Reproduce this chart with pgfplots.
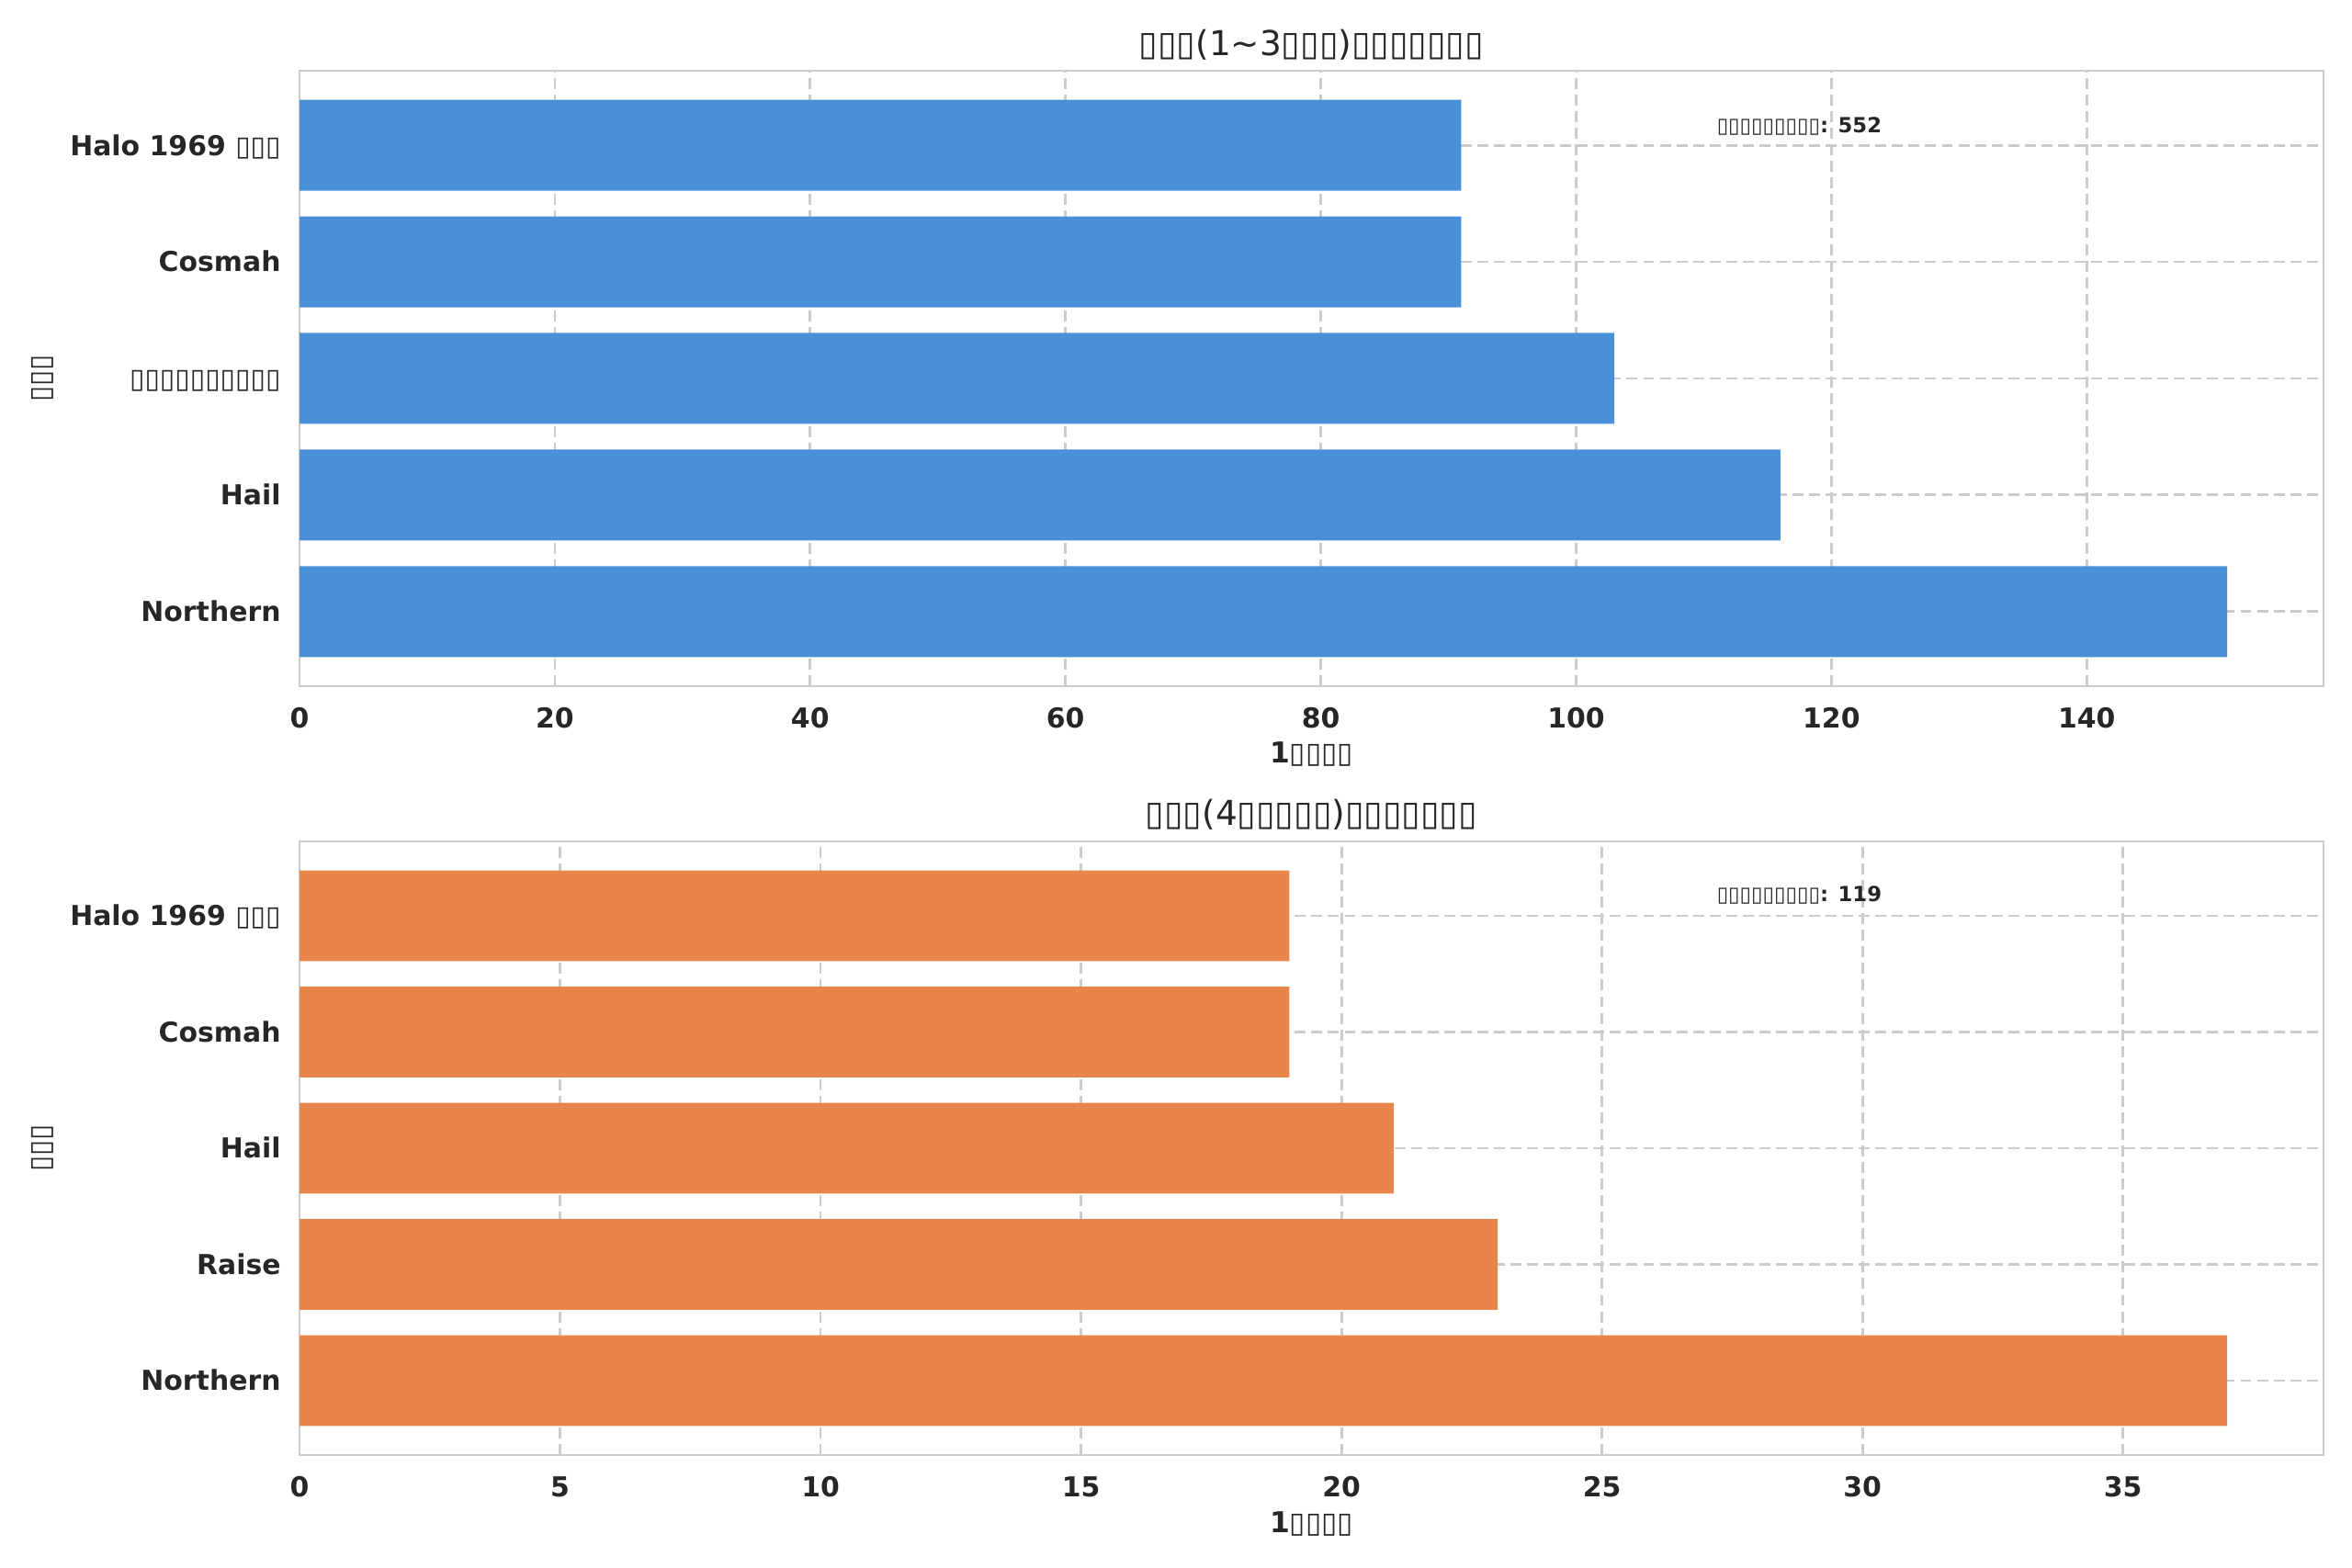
\documentclass[border=0pt]{standalone}
\usepackage{pgfplots}
\pgfplotsset{compat=1.18}
\usepackage{fontspec}
\setmainfont{DejaVu Sans}
\definecolor{txt}{HTML}{262626}
\definecolor{frame}{HTML}{CCCCCC}
\definecolor{barblue}{HTML}{4A90D9}
\definecolor{barorange}{HTML}{E8854A}
\pgfplotsset{
  every axis title shift=0pt,
  mystyle/.style={
    scale only axis, width=793.08bp, anchor=south west,
    xbar, bar width=0.78, ymin=-0.64, ymax=4.64, xmin=0,
    ytick={0,1,2,3,4},
    axis line style={draw=frame, line width=1bp},
    tick style={draw=none},
    xmajorgrids, ymajorgrids,
    grid style={draw=frame, line width=1bp, dash pattern=on 4.3bp off 2.2bp},
    tick label style={font=\fontsize{10.8}{13}\selectfont\bfseries, text=txt},
    /pgf/number format/assume math mode=true,
    scaled x ticks=false,
    xticklabel style={anchor=center, yshift=-12.6bp},
    yticklabel style={anchor=base east, inner sep=0pt, xshift=-2.9bp, yshift=-3.9bp},
    title style={anchor=center, font=\fontsize{13.5}{15}\selectfont, text=txt},
    xlabel style={anchor=center, font=\fontsize{11.3}{13}\selectfont\bfseries, text=txt},
    ylabel style={anchor=center, font=\fontsize{11.3}{13}\selectfont\bfseries, text=txt},
  }
}
\begin{document}
\begin{tikzpicture}
\path[use as bounding box] (0,0) rectangle (921.6bp,614.52bp);
\begin{axis}[mystyle,
  at={(117.36bp,345.6bp)}, height=241.2bp,
  xmax=158.55, xtick={0,20,40,60,80,100,120,140},
  yticklabels={Northern,Hail,▯▯▯▯▯▯▯▯▯▯,Cosmah,Halo 1969 ▯▯▯},
  title={▯▯▯(1\char`~3▯▯▯)▯▯▯▯▯▯▯},
  title style={at={(axis description cs:0.5,1.0418)}},
  xlabel={1▯▯▯▯},
  xlabel style={at={(axis description cs:0.5,-0.1104)}},
  ylabel={▯▯▯},
  ylabel style={at={(axis description cs:-0.1271,0.5)}},
]
\addplot[fill=barblue, draw=none] coordinates {(151,0) (116,1) (103,2) (91,3) (91,4)};
\node[font=\fontsize{8.2}{10}\selectfont\bfseries, text=txt] at (rel axis cs:0.741,0.91) {▯▯▯▯▯▯▯▯▯: 552};
\end{axis}
\begin{axis}[mystyle,
  at={(117.36bp,44.28bp)}, height=240.48bp,
  xmax=38.85, xtick={0,5,10,15,20,25,30,35},
  yticklabels={Northern,Raise,Hail,Cosmah,Halo 1969 ▯▯▯},
  title={▯▯▯(4▯▯▯▯▯)▯▯▯▯▯▯▯},
  title style={at={(axis description cs:0.5,1.0434)}},
  xlabel={1▯▯▯▯},
  xlabel style={at={(axis description cs:0.5,-0.1123)}},
  ylabel={▯▯▯},
  ylabel style={at={(axis description cs:-0.1271,0.5)}},
]
\addplot[fill=barorange, draw=none] coordinates {(37,0) (23,1) (21,2) (19,3) (19,4)};
\node[font=\fontsize{8.2}{10}\selectfont\bfseries, text=txt] at (rel axis cs:0.741,0.912) {▯▯▯▯▯▯▯▯▯: 119};
\end{axis}
\end{tikzpicture}
\end{document}
